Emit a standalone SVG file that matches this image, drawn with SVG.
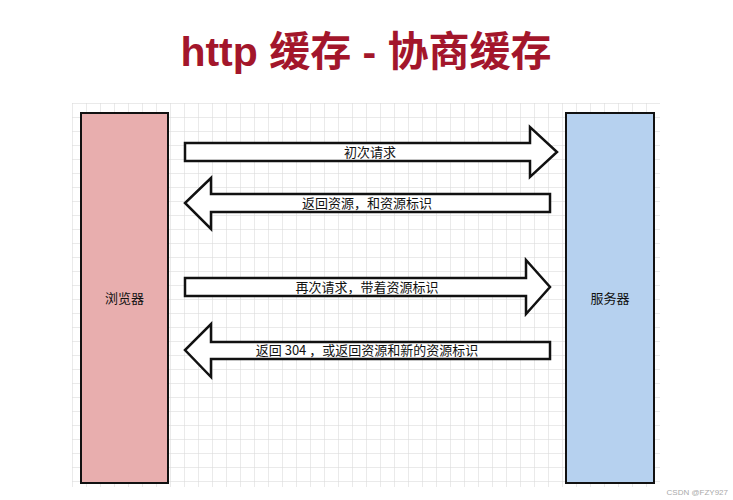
<svg xmlns="http://www.w3.org/2000/svg" width="733" height="500" viewBox="0 0 733 500">
<defs>
<pattern id="g" x="72" y="103" width="14" height="14" patternUnits="userSpaceOnUse"><path d="M0 0H14M0 0V14" fill="none" stroke="#d6d6d6" stroke-width="1"/></pattern>
<style>
.arr{fill:#fff;stroke:#111;stroke-width:2.5;stroke-linejoin:miter}
.t{font-family:"Noto Sans CJK SC","Noto Sans",sans-serif;font-size:13px;fill:#111}
.box{stroke:#111;stroke-width:2}
</style>
</defs>
<rect width="733" height="500" fill="#fff"/>
<rect x="72" y="103" width="588" height="384" fill="url(#g)"/>
<text x="366" y="66" text-anchor="middle" font-family="'Liberation Sans','Noto Sans CJK SC',sans-serif" font-weight="bold" font-size="41" fill="#a3162b">http 缓存 - 协商缓存</text>
<g id="browser"><rect class="box" x="81" y="113" width="87" height="370" fill="#e8aeae"/><text class="t" x="124.5" y="303" text-anchor="middle">浏览器</text></g>
<g id="server"><rect class="box" x="566" y="113" width="88" height="370" fill="#b6d1ef"/><text class="t" x="610" y="303" text-anchor="middle">服务器</text></g>
<g id="connectors">
<g id="a1"><path class="arr" d="M185 143H530V127L557 152L530 177V161H185Z"/><text class="t" x="370" y="157" text-anchor="middle">初次请求</text></g>
<g id="a2"><path class="arr" d="M550 194H211V178L185 203L211 229V212H550Z"/><text class="t" x="367" y="208" text-anchor="middle">返回资源，和资源标识</text></g>
<g id="a3"><path class="arr" d="M185 278H526V260L550 287L526 314V296H185Z"/><text class="t" x="367" y="292" text-anchor="middle">再次请求，带着资源标识</text></g>
<g id="a4"><path class="arr" d="M550 342H211V324L185 350L211 377V359H550Z"/><text class="t" x="367" y="355" text-anchor="middle">返回 304 ，或返回资源和新的资源标识</text></g>
</g>
<text x="728" y="495" text-anchor="end" font-family="'Liberation Sans',sans-serif" font-size="8" fill="#aaa">CSDN @FZY927</text>
</svg>
